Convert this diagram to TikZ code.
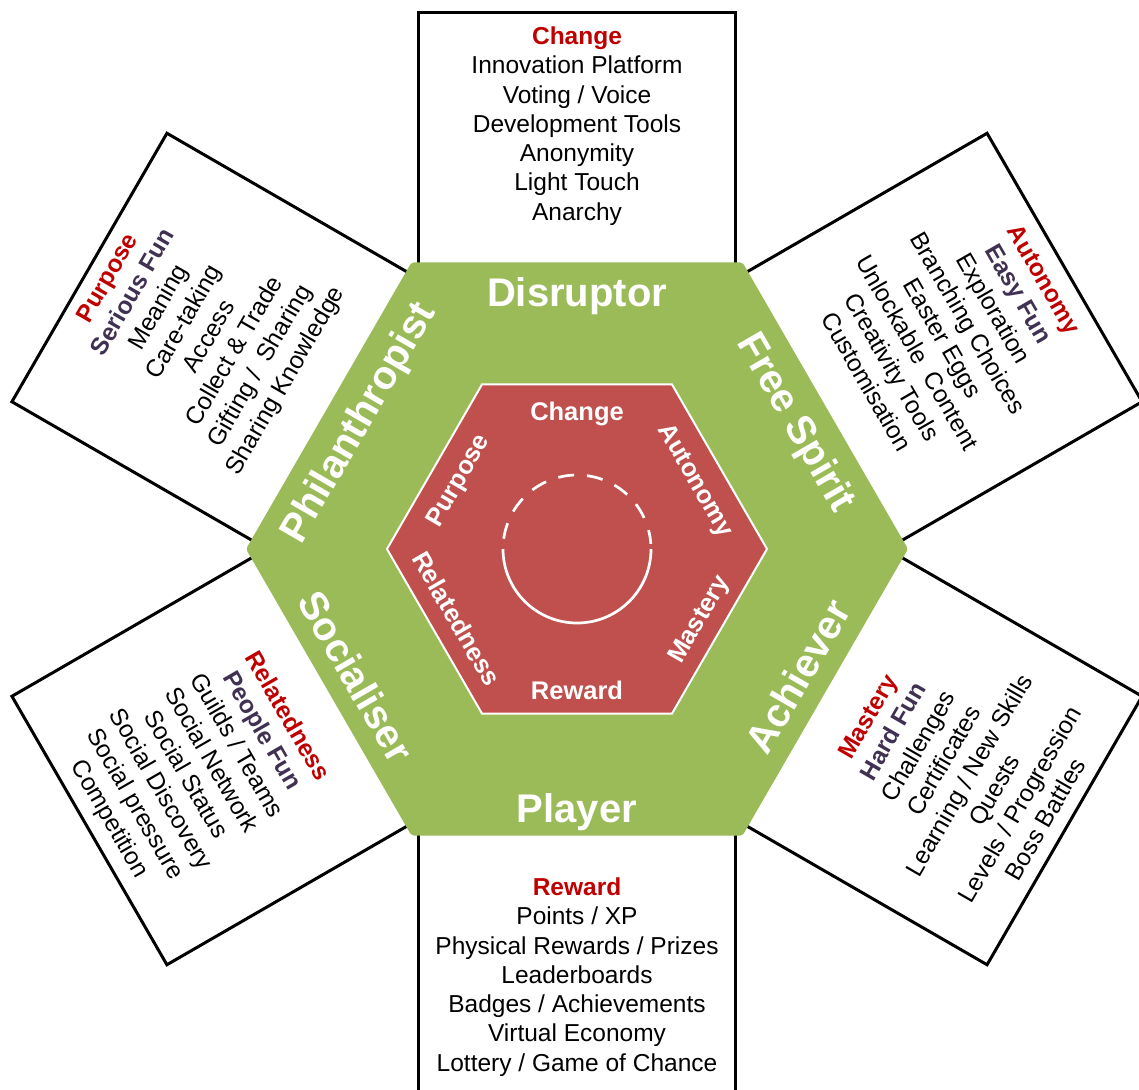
\documentclass[tikz,border=0pt]{standalone}
\usepackage{fontspec}
\setmainfont{Liberation Sans}
\definecolor{hgreen}{HTML}{9BBB59}
\definecolor{hred}{HTML}{C0504D}
\definecolor{tred}{HTML}{C00000}
\definecolor{tpurple}{HTML}{403152}
\newcommand{\rt}[1]{\textcolor{tred}{\bfseries #1}}
\newcommand{\pt}[1]{\textcolor{tpurple}{\bfseries #1}}
\begin{document}
\begin{tikzpicture}[x=1pt,y=1pt,
  boxst/.style={draw=black, line width=3pt, fill=white},
  itemtxt/.style={align=center, font=\fontsize{24.5}{29.3}\selectfont, inner sep=0pt},
  typelbl/.style={font=\fontsize{40}{48}\selectfont\bfseries, text=white, text height=28.6pt, text depth=0pt, inner sep=0pt},
  motlbl/.style={font=\fontsize{25.5}{30}\selectfont\bfseries, text=white, text height=18.3pt, text depth=0pt, inner sep=0pt}]
\useasboundingbox (0,0) rectangle (1139,-1089);
\clip (0,0) rectangle (1139,-1089);
\begin{scope}[shift={(577,-549)}]
  % outer boxes
  \draw[boxst] (-158.5,250) rectangle (158.5,536);
  \draw[boxst, rotate=180] (-158.5,250) rectangle (158.5,580);
  \draw[boxst, rotate=60] (-155,250) rectangle (155,563);
  \draw[boxst, rotate=-60] (-155,250) rectangle (155,563);
  \draw[boxst, rotate=120] (-155,250) rectangle (155,563);
  \draw[boxst, rotate=-120] (-155,250) rectangle (155,563);
  % green hexagon
  \fill[hgreen, rounded corners=3pt] (0:331) -- (60:331) -- (120:331) -- (180:331) -- (240:331) -- (300:331) -- cycle;
  % red hexagon
  \filldraw[fill=hred, draw=white, line width=2pt] (0:190) -- (60:190) -- (120:190) -- (180:190) -- (240:190) -- (300:190) -- cycle;
  % circle
  \draw[white, line width=2.7pt] (180:74) arc[start angle=180, end angle=360, radius=74];
  \draw[white, line width=2.7pt, dash pattern=on 16pt off 13pt] (172:74) arc[start angle=172, end angle=4, radius=74];
  % box texts
  \node[itemtxt] (tTop) at (90:423) {\rt{Change}\\Innovation Platform\\Voting / Voice\\Development Tools\\Anonymity\\Light Touch\\Anarchy};
  \node[itemtxt, rotate=60] (tUL) at (150:438) {\rt{Purpose}\\\pt{Serious Fun}\\Meaning\\Care-taking\\Access\\Collect \& Trade\\Gifting /\ \ Sharing\\Sharing Knowledge};
  \node[itemtxt, rotate=-60] (tUR) at (30:437) {\rt{Autonomy}\\\pt{Easy Fun}\\Exploration\\Branching Choices\\Easter Eggs\\Unlockable\ \ Content\\Creativity Tools\\Customisation};
  \node[itemtxt, rotate=-60] (tLL) at (210:438) {\rt{Relatedness}\\\pt{People Fun}\\Guilds / Teams\\Social Network\\Social Status\\Social Discovery\\Social pressure\\Competition};
  \node[itemtxt, rotate=60] (tLR) at (330:438) {\rt{Mastery}\\\pt{Hard Fun}\\Challenges\\Certificates\\Learning / New Skills\\Quests\\Levels / Progression\\Boss Battles};
  \node[itemtxt] (tBot) at (270:428) {\rt{Reward}\\Points / XP\\Physical Rewards / Prizes\\Leaderboards\\Badges / Achievements\\Virtual Economy\\Lottery / Game of Chance};
  % user type labels
  \node[typelbl] (lDis) at (90:257) {Disruptor};
  \node[typelbl, rotate=-60] (lFree) at (30:255) {Free Spirit};
  \node[typelbl, rotate=60] (lAch) at (330:255) {Achiever};
  \node[typelbl] (lPla) at (270:259) {Player};
  \node[typelbl, rotate=-60] (lSoc) at (210:255) {Socialiser};
  \node[typelbl, rotate=60] (lPhi) at (150:255) {Philanthropist};
  % motivation labels
  \node[motlbl] (mCha) at (90:138) {Change};
  \node[motlbl, rotate=-60] (mAut) at (30:139) {Autonomy};
  \node[motlbl, rotate=60] (mMas) at (330:139) {Mastery};
  \node[motlbl] (mRew) at (270:141) {Reward};
  \node[motlbl, rotate=-60] (mRel) at (210:139) {Relatedness};
  \node[motlbl, rotate=60] (mPur) at (150:139) {Purpose};
\end{scope}
\end{tikzpicture}
\end{document}
